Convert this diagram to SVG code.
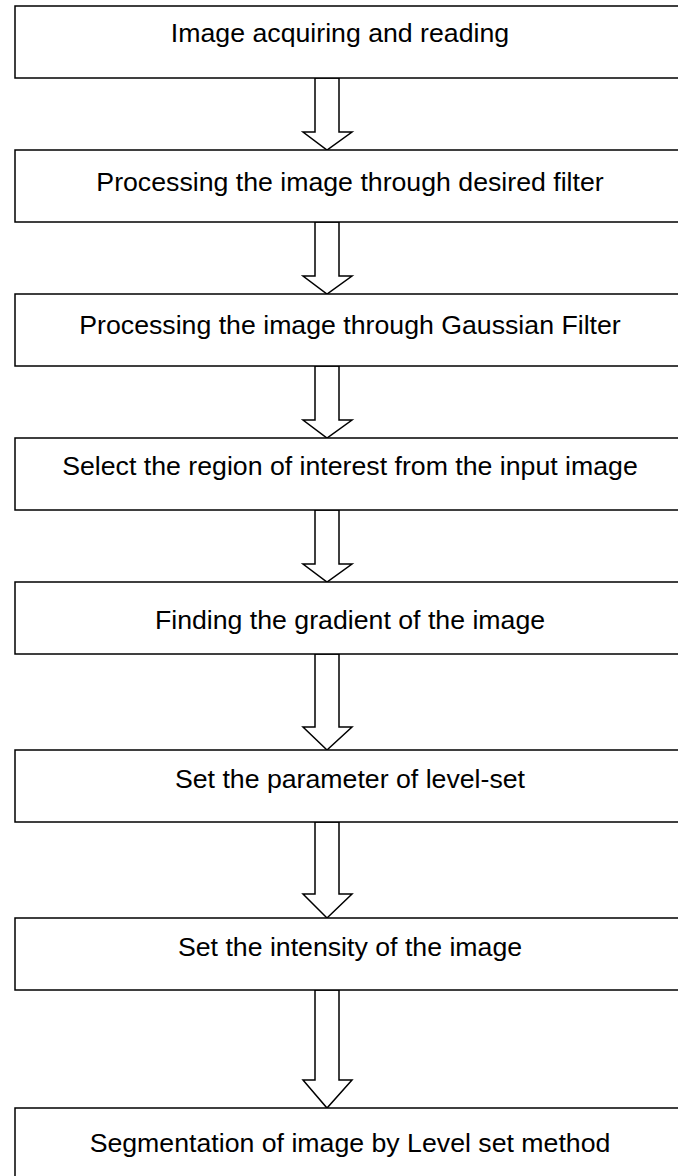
<svg xmlns="http://www.w3.org/2000/svg" width="678" height="1176" viewBox="0 0 678 1176">
<style>
.box{fill:#fff;stroke:#000;stroke-width:1.5}
.arr{fill:#fff;stroke:#000;stroke-width:1.5;stroke-linejoin:miter}
.t{font-family:"Liberation Sans",Arial,sans-serif;font-size:26.7px;fill:#000;text-anchor:middle}
</style>
<rect width="678" height="1176" fill="#fff"/>
<g id="connectors">
<path class="arr" d="M315,78 V132 H303 L327,150 L352,132 H339 V78 Z"/>
<path class="arr" d="M315,222 V276 H303 L327,294 L352,276 H339 V222 Z"/>
<path class="arr" d="M315,366 V420 H303 L327,438 L352,420 H339 V366 Z"/>
<path class="arr" d="M315,510 V564 H303 L327,582 L352,564 H339 V510 Z"/>
<path class="arr" d="M315,654 V727 H303 L327,750 L352,727 H339 V654 Z"/>
<path class="arr" d="M315,822 V894 H303 L327,918 L352,894 H339 V822 Z"/>
<path class="arr" d="M315,990 V1080 H303 L327,1108 L352,1080 H339 V990 Z"/>
</g>
<g id="n1"><rect class="box" x="15" y="6" width="672" height="72"/><text class="t" x="340" y="42">Image acquiring and reading</text></g>
<g id="n2"><rect class="box" x="15" y="150" width="672" height="72"/><text class="t" x="350" y="191">Processing the image through desired filter</text></g>
<g id="n3"><rect class="box" x="15" y="294" width="672" height="72"/><text class="t" x="350" y="334">Processing the image through Gaussian Filter</text></g>
<g id="n4"><rect class="box" x="15" y="438" width="672" height="72"/><text class="t" x="350" y="475">Select the region of interest from the input image</text></g>
<g id="n5"><rect class="box" x="15" y="582" width="672" height="72"/><text class="t" x="350" y="629">Finding the gradient of the image</text></g>
<g id="n6"><rect class="box" x="15" y="750" width="672" height="72"/><text class="t" x="350" y="788">Set the parameter of level-set</text></g>
<g id="n7"><rect class="box" x="15" y="918" width="672" height="72"/><text class="t" x="350" y="956">Set the intensity of the image</text></g>
<g id="n8"><rect class="box" x="15" y="1108" width="672" height="72"/><text class="t" x="350" y="1152">Segmentation of image by Level set method</text></g>
</svg>
